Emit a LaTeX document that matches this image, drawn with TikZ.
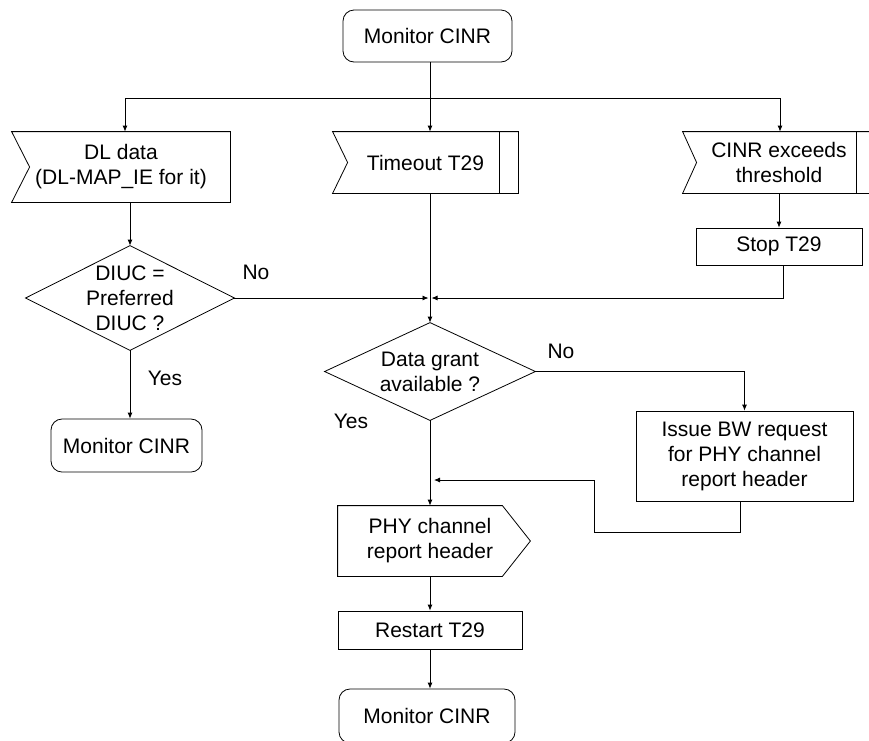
\documentclass[tikz,border=0pt]{standalone}
\usepackage{fontspec}
\setmainfont{Liberation Sans}
\usetikzlibrary{arrows.meta,calc}
\begin{document}
\begin{tikzpicture}[x=1pt,y=-1pt,
  line width=0.8pt,
  every node/.style={font=\fontsize{21}{25}\selectfont, align=center, inner sep=0pt},
  frame/.style={rectangle, draw=none},
  boxed/.style={rectangle, draw},
  term/.style={rectangle, draw, rounded corners=11pt},
  arr/.style={-{Latex[length=6pt,width=5pt]}},
  lbl/.style={}
]
\clip (0,0) rectangle (869,740);

% nodes
\node[term, minimum width=169pt, minimum height=52pt] (mon1) at (427.5,36) {Monitor CINR};
\node[frame, minimum width=218pt, minimum height=70pt] (dl) at (121,167) {DL data\\(DL-MAP\_IE for it)};
\node[frame, minimum width=185pt, minimum height=61pt] (to) at (425.5,162.5) {Timeout T29};
\node[frame, minimum width=192pt, minimum height=61pt] (cinr) at (779,162.5) {CINR exceeds\\threshold};
\node[boxed, minimum width=166pt, minimum height=37pt] (stop) at (779,246.5) {Stop T29};
\node[frame, minimum width=208pt, minimum height=104pt] (diuc) at (130,298) {DIUC =\\Preferred\\DIUC ?};
\node[term, minimum width=151pt, minimum height=53pt] (mon2) at (126.5,445.5) {Monitor CINR};
\node[frame, minimum width=210pt, minimum height=97pt] (dg) at (430,371.5) {Data grant\\available ?};
\node[boxed, minimum width=217pt, minimum height=90pt] (bw) at (744.5,456) {Issue BW request\\for PHY channel\\report header};
\node[frame, minimum width=184pt, minimum height=70pt] (phy) at (430,541) {PHY channel\\report header};
\node[boxed, minimum width=184pt, minimum height=38pt] (rst) at (430,630) {Restart T29};
\node[term, minimum width=176pt, minimum height=54pt] (mon3) at (427,716) {Monitor CINR};

% outlines of special shapes
\draw (dl.north west) -- (dl.north east) -- (dl.south east) -- (dl.south west) -- ($(dl.west)+(18,0)$) -- cycle;
\draw (to.north west) -- (to.north east) -- (to.south east) -- (to.south west) -- ($(to.west)+(15,0)$) -- cycle;
\draw ($(to.north east)+(-19,0)$) -- ($(to.south east)+(-19,0)$);
\draw (cinr.north west) -- (cinr.north east) -- (cinr.south east) -- (cinr.south west) -- ($(cinr.west)+(14,0)$) -- cycle;
\draw ($(cinr.north east)+(-19,0)$) -- ($(cinr.south east)+(-19,0)$);
\draw (diuc.west) -- (diuc.north) -- (diuc.east) -- (diuc.south) -- cycle;
\draw (dg.west) -- (dg.north) -- (dg.east) -- (dg.south) -- cycle;
\draw (phy.north west) -- ($(phy.north east)+(-20,0)$) -- ($(phy.east)+(8,0)$) -- ($(phy.south east)+(-20,0)$) -- (phy.south west) -- cycle;

% coordinates
\coordinate (hub) at (430,98);
\coordinate (hubL) at (125,98);
\coordinate (hubR) at (780,98);
\coordinate (join) at (430,298);
\coordinate (merge) at (434,480);

% connectors
\draw (mon1.south -| hub) -- (hub);
\draw (hubL) -- (hubR);
\draw[arr] (hubL) -- (hubL |- dl.north);
\draw[arr] (hub) -- (hub |- to.north);
\draw[arr] (hubR) -- (hubR |- cinr.north);
\draw[arr] (diuc.north |- dl.south) -- (diuc.north);
\draw[arr] (dg.north |- to.south) -- (dg.north);
\draw[arr] (stop.north |- cinr.south) -- (stop.north);
\draw[arr] ([xshift=4pt]stop.south) |- ([xshift=1.5pt]join);
\draw[arr] (diuc.east) -- ([xshift=-1.5pt]join);
\draw[arr] (diuc.south) -- (diuc.south |- mon2.north);
\draw[arr] (dg.east) -| (bw.north);
\draw[arr] (dg.south) -- (phy.north);
\draw[arr] ([xshift=-4pt]bw.south) -- ++(0,31) -| (594,480) -- (merge);
\draw[arr] (phy.south) -- (rst.north);
\draw[arr] (rst.south) -- (rst.south |- mon3.north);

% labels
\node[lbl] (no1) at (256,272) {No};
\node[lbl] (yes1) at (165,378) {Yes};
\node[lbl] (no2) at (561,351) {No};
\node[lbl] (yes2) at (351,421) {Yes};
\end{tikzpicture}
\end{document}
